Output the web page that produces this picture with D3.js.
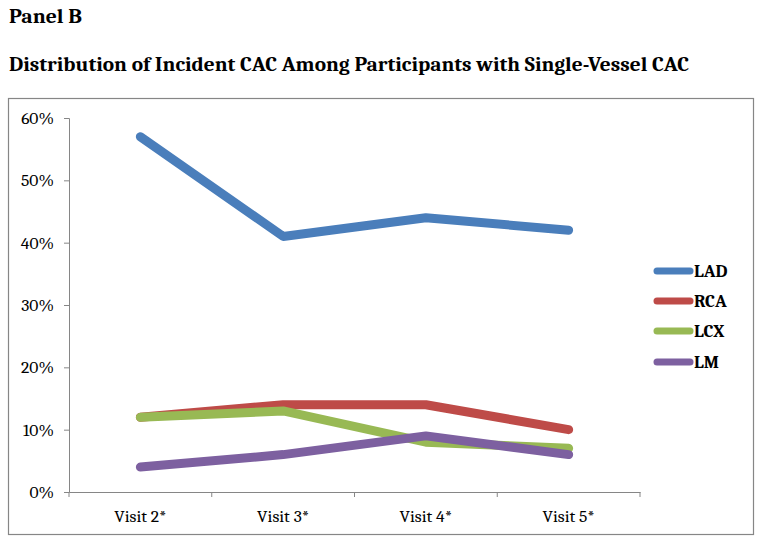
<!DOCTYPE html>
<html><head><meta charset="utf-8">
<script src="https://cdn.jsdelivr.net/npm/d3@7"></script>
<style>body{margin:0;background:#fff}svg{display:block}</style>
</head><body><svg id="c" width="762" height="543"></svg>
<script>
const categories = ["Visit 2*", "Visit 3*", "Visit 4*", "Visit 5*"];
const seriesNames = ["LAD", "RCA", "LCX", "LM"];
const LAD = [57, 41, 44, 42];
const RCA = [12, 14, 14, 10];
const LCX = [12, 13, 8, 7];
const LM = [4, 6, 9, 6];
const yTicks = [0, 10, 20, 30, 40, 50, 60];
const colors = ["#4A7EBB", "#BE4B48", "#98B954", "#7D60A0"];
const seriesValues = [LAD, RCA, LCX, LM];

const svg = d3.select("#c");
const serif = "Cambria, 'Liberation Serif', 'DejaVu Serif', serif";

svg.append("text").attr("x", 9).attr("y", 23).attr("font-family", serif)
  .attr("font-weight", "bold").attr("font-size", 20).attr("textLength", 73)
  .attr("lengthAdjust", "spacingAndGlyphs").text("Panel B");
svg.append("text").attr("x", 9).attr("y", 71).attr("font-family", serif)
  .attr("font-weight", "bold").attr("font-size", 20).attr("textLength", 680)
  .attr("lengthAdjust", "spacingAndGlyphs")
  .text("Distribution of Incident CAC Among Participants with Single-Vessel CAC");

svg.append("rect").attr("x", 8.5).attr("y", 98.5).attr("width", 745).attr("height", 436)
  .attr("fill", "none").attr("stroke", "#868686").attr("stroke-width", 1.2);

const x = d3.scaleBand().domain(categories).range([69, 640]);
const y = d3.scaleLinear().domain([0, 60]).range([492, 118]);

const yAxis = svg.append("g").attr("transform", "translate(69,0)")
  .call(d3.axisLeft(y).tickValues(yTicks).tickFormat(d => d + "%").tickSizeOuter(0).tickSize(5));
yAxis.select(".domain").attr("stroke", "#868686");
yAxis.selectAll(".tick line").attr("stroke", "#868686");
yAxis.selectAll(".tick text").attr("font-family", serif).attr("font-size", 17.5)
  .attr("fill", "#000").attr("x", -15);

const xAxis = svg.append("g").attr("transform", "translate(0,492)")
  .call(d3.axisBottom(x).tickSize(0).tickSizeOuter(0));
xAxis.select(".domain").attr("stroke", "#868686");
xAxis.selectAll(".tick text").attr("font-family", serif).attr("font-size", 17.5)
  .attr("fill", "#000").attr("dy", 0).attr("y", 30);
const bounds = categories.map(c => x(c)).concat([x.range()[1]]);
svg.append("g").selectAll("line").data(bounds).join("line")
  .attr("x1", d => d).attr("x2", d => d).attr("y1", 492).attr("y2", 497)
  .attr("stroke", "#868686");

const line = d3.line().x((d, i) => x(categories[i]) + x.bandwidth() / 2).y(d => y(d));
seriesValues.forEach((vals, k) => {
  svg.append("path").attr("d", line(vals)).attr("fill", "none")
    .attr("stroke", colors[k]).attr("stroke-width", 9)
    .attr("stroke-linecap", "round").attr("stroke-linejoin", "round");
});

const legY = [271, 301, 331, 362];
seriesNames.forEach((n, k) => {
  svg.append("line").attr("x1", 657).attr("x2", 690).attr("y1", legY[k]).attr("y2", legY[k])
    .attr("stroke", colors[k]).attr("stroke-width", 7).attr("stroke-linecap", "round");
  svg.append("text").attr("x", 694).attr("y", legY[k] + 6).attr("font-family", serif)
    .attr("font-weight", "bold").attr("font-size", 18).text(n);
});
</script></body></html>
